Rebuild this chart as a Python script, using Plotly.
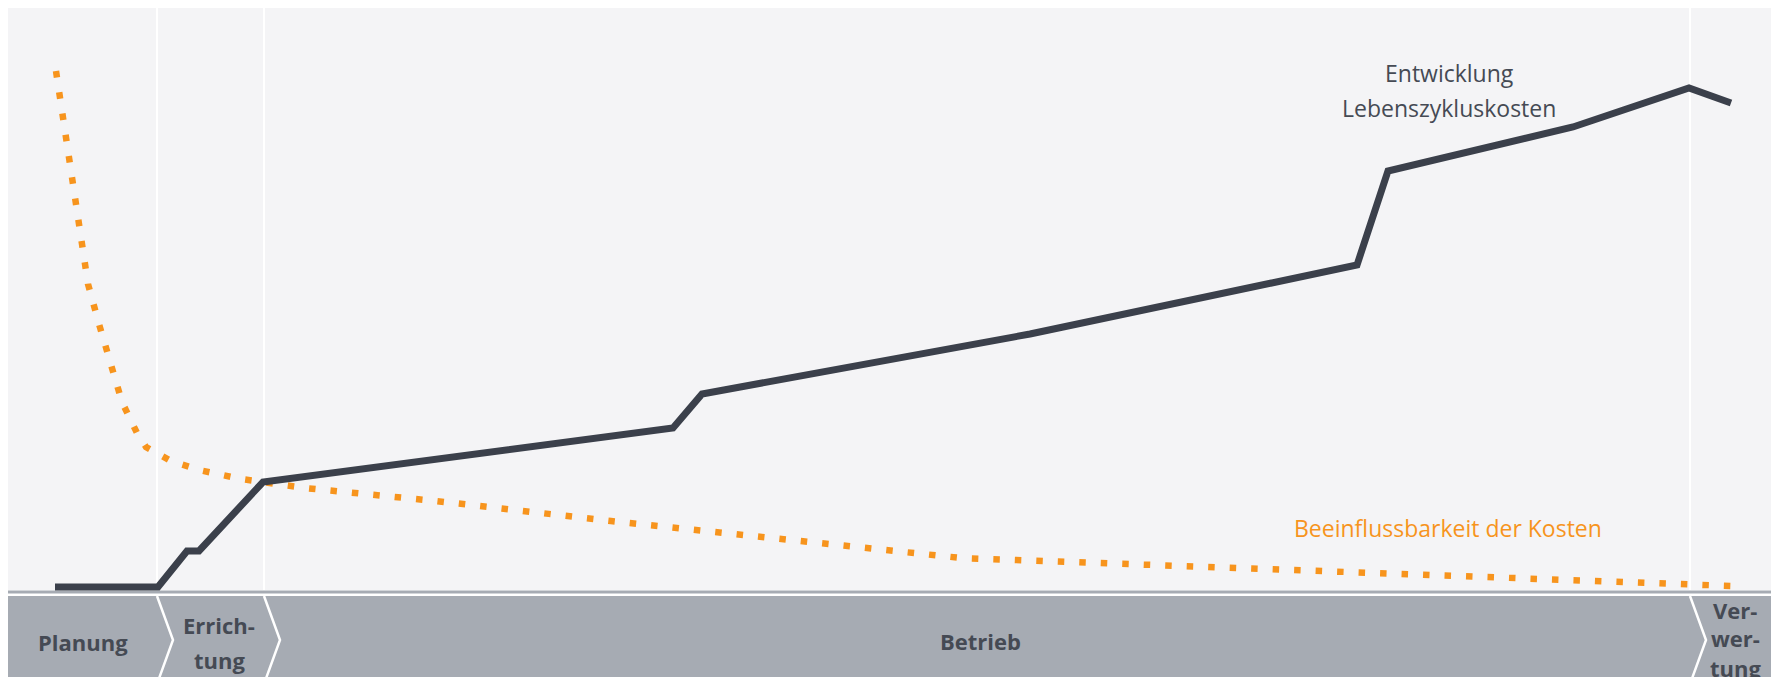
import plotly.graph_objects as go

# Time axis (arbitrary units) and values
cost_x = [55, 158, 187, 199, 263, 673, 702, 1030, 1357, 1388, 1573, 1689, 1731]
cost_y = [5, 5, 41, 41, 110, 164, 198, 258, 327, 421, 465, 504, 489]

infl_x = [56, 62, 69, 75, 81, 88, 99, 111, 122, 137, 146, 171, 199, 241, 305, 436,
          611, 961, 1093, 1357, 1599, 1733]
infl_y = [521, 479, 436, 393, 351, 308, 268, 227, 190, 159, 145, 131, 122, 113, 104, 91,
          71, 34, 29, 19, 10, 6]

# Phases: name lines, start, end
phase_names = [["Planung"], ["Errich-", "tung"], ["Betrieb"], ["Ver-", "wer-", "tung"]]
phase_bounds = [7, 157, 264, 1690, 1775]

cost_label = ["Entwicklung", "Lebenszykluskosten"]
infl_label = "Beeinflussbarkeit der Kosten"

DARK = "#3b404b"
ORANGE = "#f7941d"
BAND = "#a6abb3"
BG = "#f4f4f6"
FONT = "Open Sans"

fig = go.Figure()
fig.add_trace(go.Scatter(x=infl_x, y=infl_y, mode="lines",
                         line=dict(color=ORANGE, width=6.5, dash="6.5px,15px"),
                         hoverinfo="skip", showlegend=False))
fig.add_trace(go.Scatter(x=cost_x, y=cost_y, mode="lines",
                         line=dict(color=DARK, width=7),
                         hoverinfo="skip", showlegend=False))

shapes = []
# plot background
shapes.append(dict(type="rect", x0=phase_bounds[0], x1=phase_bounds[-1], y0=2, y1=586,
                   fillcolor=BG, line_width=0, layer="below"))
# vertical separators
for b in phase_bounds[1:-1]:
    shapes.append(dict(type="line", x0=b, x1=b, y0=2, y1=586,
                       line=dict(color="white", width=2), layer="below"))
# baseline
shapes.append(dict(type="line", x0=phase_bounds[0], x1=phase_bounds[-1], y0=0, y1=0,
                   line=dict(color=BAND, width=3), layer="below"))
# phase band
shapes.append(dict(type="rect", x0=phase_bounds[0], x1=phase_bounds[-1], y0=-4, y1=-90,
                   fillcolor=BAND, line_width=0, layer="below"))
# chevrons
for b in phase_bounds[1:-1]:
    shapes.append(dict(type="path", path=f"M {b},-4 L {b+16},-48 L {b},-92",
                       line=dict(color="white", width=2.5), layer="below"))

annotations = []
centers = [83, 219, 980, 1735]
line_ys = [[-50], [-33, -68], [-49], [-18, -46, -76]]
for names, cx, ys in zip(phase_names, centers, line_ys):
    for n, yy in zip(names, ys):
        annotations.append(dict(x=cx, y=yy, text=f"<b>{n}</b>", showarrow=False,
                                xanchor="center", yanchor="middle",
                                font=dict(family=FONT, size=22, color="#454a54")))
annotations.append(dict(x=1449, y=519, text=cost_label[0], showarrow=False,
                        font=dict(family=FONT, size=23, color="#454a54")))
annotations.append(dict(x=1449, y=484, text=cost_label[1], showarrow=False,
                        font=dict(family=FONT, size=23, color="#454a54")))
annotations.append(dict(x=1292, y=64, text=infl_label, showarrow=False, xanchor="left",
                        font=dict(family=FONT, size=23, color=ORANGE)))

# the page body has an 8px margin; size and ranges compensate for it
fig.update_layout(
    width=1771, height=669,
    margin=dict(l=0, r=0, t=0, b=0),
    paper_bgcolor="white", plot_bgcolor="white",
    xaxis=dict(range=[8, 1779], visible=False, fixedrange=True),
    yaxis=dict(range=[-85, 584], visible=False, fixedrange=True),
    shapes=shapes, annotations=annotations,
    showlegend=False,
)
fig.write_html("out.html")
